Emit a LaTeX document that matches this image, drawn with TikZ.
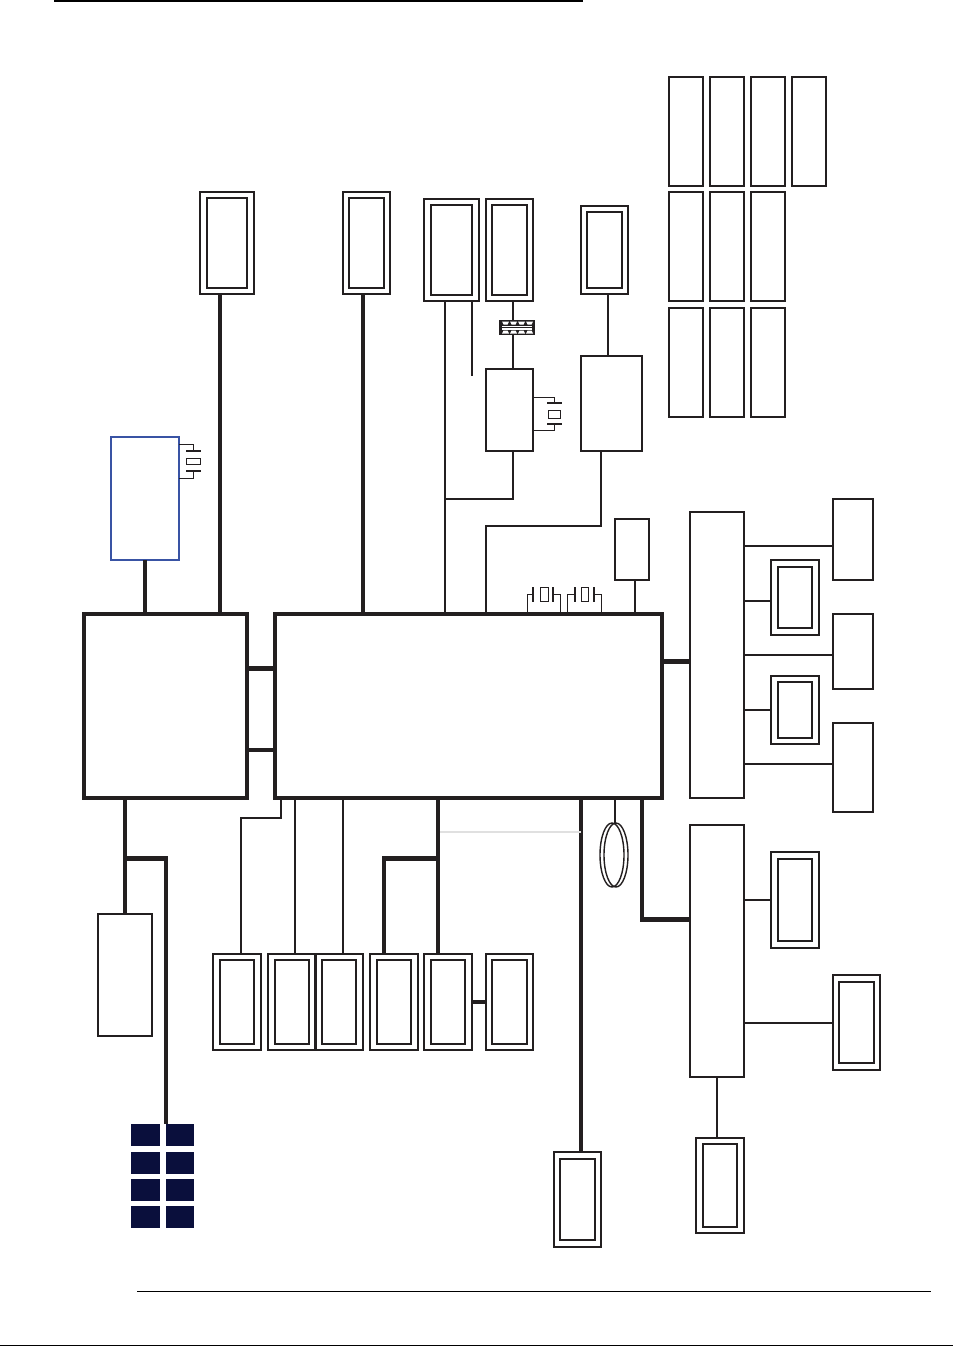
\documentclass[tikz,border=0pt]{standalone}
\usepackage{xcolor}
\usetikzlibrary{calc,shapes.geometric}
\definecolor{ink}{HTML}{231F20}
\definecolor{clkblue}{HTML}{3953A4}
\definecolor{memnavy}{HTML}{0A0F3C}
\def\u{0.02cm}
\tikzset{
  wh/.style 2 args={minimum width=#1*\u,minimum height=#2*\u},
  frame/.style={rectangle,draw=ink,line width=1.15pt,inner sep=0pt,outer sep=0pt},
  hubv/.style={frame,line width=2.2pt},
  clkv/.style={frame,draw=clkblue,line width=1.35pt},
  memv/.style={rectangle,fill=memnavy,inner sep=0pt,outer sep=0pt,minimum width=29*\u,minimum height=22*\u},
  plate/.style={rectangle,draw=ink,line width=.55pt,inner sep=0pt,outer sep=0pt},
  xtalv/.style={plate},
  loopv/.style={ellipse,draw=ink,line width=.8pt,inner sep=0pt,outer sep=0pt,minimum width=24*\u,minimum height=64*\u},
  bus/.style={line width=2.4pt,ink},
  wire/.style={line width=1.15pt,ink},
  lead/.style={line width=.55pt,ink},
  rule/.style={line width=.55pt,black}
}
\begin{document}
\begin{tikzpicture}[x=0.02cm,y=-0.02cm]
  \useasboundingbox (0,0) rectangle (953,1346);
  % rails for the connectors
  \foreach \x in {125,145,166,220,241,281,295,343,363,384,438,445,472,486,513,527,560,567,581,601,608,615,635,642,717}
    \coordinate (x\x) at (\x,0);
  \foreach \y in {397,430,444,478,499,526,546,601,655,710,750,764,818,832,900,1002,1023}
    \coordinate (y\y) at (0,\y);
  \foreach \n/\y in {661/661.5,668/668.5,858/858.5,919/919.5}
    \coordinate (y\n) at (0,\y);

  % page rules
  \coordinate (ta) at (54,1);
  \coordinate (tb) at (583,1);
  \coordinate (ba) at (137,1291);
  \coordinate (bb) at (931,1291);
  \coordinate (pa) at (0,1345);
  \coordinate (pb) at (953,1345);
  \draw[line width=1.1pt,black] (ta)--(tb);
  \draw[rule] (ba)--(bb);
  \draw[rule] (pa)--(pb);

  % grid of small boxes top right
  \foreach \x/\n in {686/a,727/b,768/c,809/d}
    \node[frame,wh={34}{109}] (r1\n) at (\x,131.5) {};
  \foreach \x/\n in {686/a,727/b,768/c}{
    \node[frame,wh={34}{109}] (r2\n) at (\x,246.5) {};
    \node[frame,wh={34}{109}] (r3\n) at (\x,362.5) {};
  }

  % main chips
  \node[hubv,wh={163}{184}] (nb) at (165.5,706) {};
  \node[hubv,wh={387}{184}] (sb) at (468.5,706) {};
  \node[clkv,wh={68}{123}] (clk) at (145,498.5) {};
  \node[frame,wh={54}{286}] (hubu) at (717,655) {};
  \node[frame,wh={54}{252}] (hubl) at (717,951) {};

  % plain boxes
  \node[frame,wh={47}{82}] (rtl) at (509.5,410) {};
  \node[frame,wh={61}{95}] (ctl) at (611.5,403.5) {};
  \node[frame,wh={34}{61}] (tpm) at (632,549.5) {};
  \node[frame,wh={40}{81}] (ua) at (853,539.5) {};
  \node[frame,wh={40}{75}] (ub) at (853,651.5) {};
  \node[frame,wh={40}{89}] (uc) at (853,767.5) {};
  \node[frame,wh={54}{122}] (vga) at (125,975) {};

  % double framed connectors, upper row
  \node[frame,wh={54}{102}] (agp) at (227,243) {};
  \node[frame,wh={40}{90}] (agpi) at (agp) {};
  \node[frame,wh={47}{102}] (lcd) at (366.5,243) {};
  \node[frame,wh={35}{90}] (lcdi) at (lcd) {};
  \node[frame,wh={55}{102}] (usb) at (451.5,250) {};
  \node[frame,wh={41}{90}] (usbi) at (usb) {};
  \node[frame,wh={47}{102}] (lan) at (509.5,250) {};
  \node[frame,wh={35}{90}] (lani) at (lan) {};
  \node[frame,wh={47}{88}] (mdc) at (604.5,250) {};
  \node[frame,wh={35}{76}] (mdci) at (mdc) {};

  % double framed connectors, right column
  \node[frame,wh={48}{75}] (pa1) at (795,597.5) {};
  \node[frame,wh={34}{61}] (pa1i) at (pa1) {};
  \node[frame,wh={48}{68}] (pa2) at (795,710) {};
  \node[frame,wh={34}{56}] (pa2i) at (pa2) {};
  \node[frame,wh={48}{96}] (pc1) at (795,900) {};
  \node[frame,wh={34}{82}] (pc1i) at (pc1) {};
  \node[frame,wh={47}{95}] (pc2) at (856.5,1022.5) {};
  \node[frame,wh={35}{81}] (pc2i) at (pc2) {};
  \node[frame,wh={48}{95}] (pc3) at (720,1185.5) {};
  \node[frame,wh={34}{83}] (pc3i) at (pc3) {};
  \node[frame,wh={47}{95}] (hdd) at (577.5,1199.5) {};
  \node[frame,wh={35}{81}] (hddi) at (hdd) {};

  % double framed connectors, lower row
  \foreach \n/\x/\w/\v in {la/237/48/34,lb/292/48/34,lc/339/48/34,ld/394/48/34,le/448/48/34,lf/509.5/47/35}{
    \node[frame,wh={\w}{96}] (\n) at (\x,1002) {};
    \node[frame,wh={\v}{84}] (\n i) at (\n) {};
  }

  % memory chips
  \foreach \y [count=\i] in {1135,1162.5,1189.5,1216.5}{
    \node[memv] (ma\i) at (145.5,\y) {};
    \node[memv,wh={28}{22}] (mb\i) at (180,\y) {};
  }

  % transformer block
  \node[rectangle,fill=ink,wh={36}{15},inner sep=0pt,outer sep=0pt] (xfm) at (517,327.5) {};
  \fill[white] (502,325.5) rectangle (532,327);
  \fill[white] (502,328) rectangle (532,329.5);
  \foreach \x in {502,510,518,526}{
    \fill[white] (\x,321.5) -- ++(7,0) -- ++(-1.5,3) -- ++(-4,0) -- cycle;
    \fill[white] (\x,333.5) -- ++(7,0) -- ++(-1.5,-3) -- ++(-4,0) -- cycle;
  }

  % thick links
  \draw[bus] (x145 |- clk.south) -- (x145 |- nb.north);
  \draw[bus] (x220 |- agp.south) -- (x220 |- nb.north);
  \draw[bus] (x363 |- lcd.south) -- (x363 |- sb.north);
  \draw[bus] (nb.east |- y668) -- (sb.west |- y668);
  \draw[bus] (nb.east |- y750) -- (sb.west |- y750);
  \draw[bus] (sb.east |- y661) -- (hubu.west |- y661);
  \draw[bus] (x642 |- sb.south) -- (x642 |- y919) -- (hubl.west |- y919);
  \draw[bus] (x581 |- sb.south) -- (x581 |- hdd.north);
  \draw[bus] (x438 |- sb.south) -- (x438 |- le.north);
  \draw[bus] (x438 |- y858) -- (x384 |- y858) -- (x384 |- ld.north);
  \draw[bus] (le.east |- y1002) -- (lf.west |- y1002);
  \draw[bus] (x125 |- nb.south) -- (x125 |- vga.north);
  \draw[bus] (x125 |- y858) -- (x166 |- y858) -- (x166 |- mb1.north);

  % thin links
  \draw[wire] (x445 |- usb.south) -- (x445 |- sb.north);
  \draw[wire] (x472 |- usb.south) -- (472,376);
  \draw[wire] (x513 |- lan.south) -- (x513 |- xfm.north);
  \draw[wire] (x513 |- xfm.south) -- (x513 |- rtl.north);
  \draw[wire] (x513 |- rtl.south) -- (x513 |- y499) -- (x445 |- y499);
  \draw[wire] (x608 |- mdc.south) -- (x608 |- ctl.north);
  \draw[wire] (x601 |- ctl.south) -- (x601 |- y526) -- (x486 |- y526) -- (x486 |- sb.north);
  \draw[wire] (x635 |- tpm.south) -- (x635 |- sb.north);
  \draw[wire] (hubu.east |- y546) -- (ua.west |- y546);
  \draw[wire] (hubu.east |- y601) -- (pa1.west |- y601);
  \draw[wire] (hubu.east |- y655) -- (ub.west |- y655);
  \draw[wire] (hubu.east |- y710) -- (pa2.west |- y710);
  \draw[wire] (hubu.east |- y764) -- (uc.west |- y764);
  \draw[wire] (hubl.east |- y900) -- (pc1.west |- y900);
  \draw[wire] (hubl.east |- y1023) -- (pc2.west |- y1023);
  \draw[wire] (x717 |- hubl.south) -- (x717 |- pc3.north);
  \draw[wire] (x281 |- sb.south) -- (x281 |- y818) -- (x241 |- y818) -- (x241 |- la.north);
  \draw[wire] (x295 |- sb.south) -- (x295 |- lb.north);
  \draw[wire] (x343 |- sb.south) -- (x343 |- lc.north);
  \draw[line width=.7pt,black!12] (440,832) -- (x581 |- y832);

  % antenna loop
  \node[loopv] (loopa) at (612,855) {};
  \node[loopv] (loopb) at (616,855) {};
  \draw[wire] (x615 |- sb.south) -- (x615 |- loopa.north);

  % crystals on the main chip
  \node[xtalv,wh={8}{14}] (xa) at (544,594) {};
  \node[plate,wh={.1}{14}] (xa1) at (533,594) {};
  \node[plate,wh={.1}{14}] (xa2) at (553,594) {};
  \node[xtalv,wh={7}{14}] (xb) at (584.5,594) {};
  \node[plate,wh={.1}{14}] (xb1) at (575,594) {};
  \node[plate,wh={.1}{14}] (xb2) at (594,594) {};
  \draw[lead] (x527 |- sb.north) |- (xa1.west);
  \draw[lead] (x560 |- sb.north) |- (xa2.east);
  \draw[lead] (x567 |- sb.north) |- (xb1.west);
  \draw[lead] (x601 |- sb.north) |- (xb2.east);

  % crystal beside the lan chip
  \node[xtalv,wh={12}{8}] (xc) at (554,414) {};
  \node[plate,wh={14}{.1}] (xc1) at (554,403) {};
  \node[plate,wh={14}{.1}] (xc2) at (554,424) {};
  \draw[lead] (rtl.east |- y397) -| (xc1.north);
  \draw[lead] (rtl.east |- y430) -| (xc2.south);

  % crystal beside the clock chip
  \node[xtalv,wh={14}{6}] (xd) at (193,461) {};
  \node[plate,wh={14}{.1}] (xd1) at (193,451) {};
  \node[plate,wh={14}{.1}] (xd2) at (193,471) {};
  \draw[lead] (clk.east |- y444) -| (xd1.north);
  \draw[lead] (clk.east |- y478) -| (xd2.south);
\end{tikzpicture}
\end{document}
